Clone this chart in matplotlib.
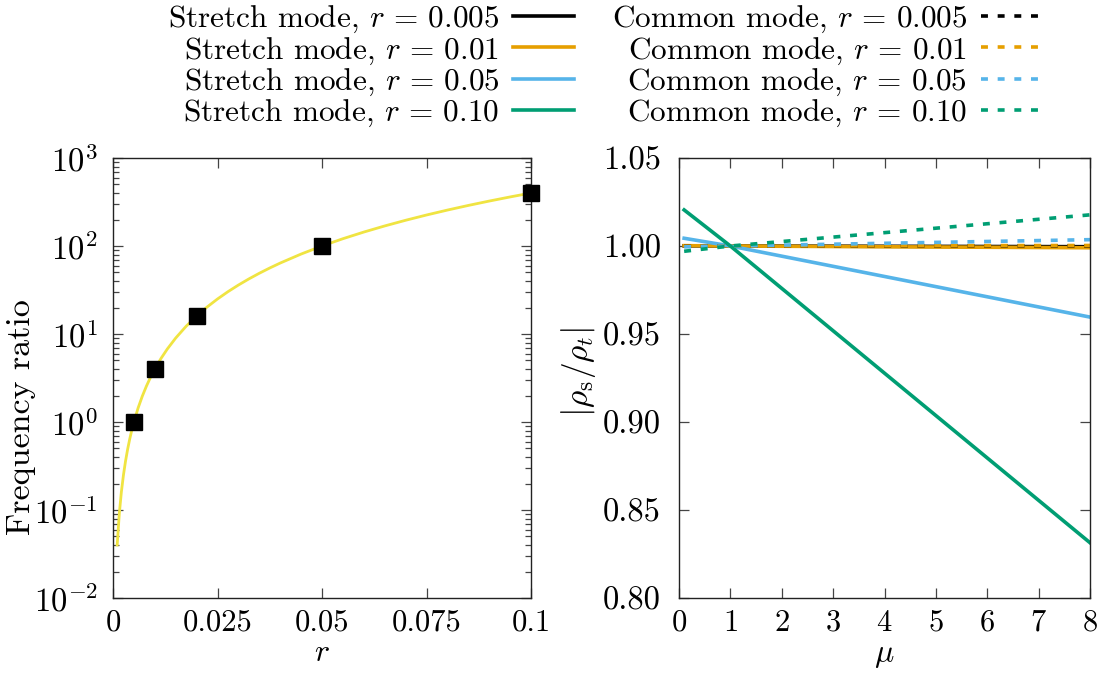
import matplotlib
matplotlib.use("Agg")
import matplotlib.pyplot as plt
from matplotlib.ticker import LogLocator, FixedLocator, FixedFormatter, NullFormatter

plt.rcParams['font.family'] = ['cmr10', 'DejaVu Serif']
plt.rcParams['mathtext.fontset'] = 'cm'
plt.rcParams['axes.formatter.use_mathtext'] = True
plt.rcParams['lines.scale_dashes'] = False
plt.rcParams['font.size'] = 22

# --- left panel: frequency ratio versus r ---
r_points = [0.005, 0.01, 0.02, 0.05, 0.1]
ratio_points = [1, 4, 16, 100, 400]

r_curve = [0.001, 0.0015, 0.002, 0.0025, 0.003, 0.0035, 0.004, 0.0045, 0.005,
           0.006, 0.007, 0.008, 0.009, 0.01, 0.0115, 0.013, 0.015, 0.0175, 0.02,
           0.0225, 0.025, 0.0275, 0.03, 0.0325, 0.035, 0.0375, 0.04, 0.045, 0.05,
           0.055, 0.06, 0.065, 0.07, 0.075, 0.08, 0.085, 0.09, 0.095, 0.1]
ratio_curve = [0.04, 0.09, 0.16, 0.25, 0.36, 0.49, 0.64, 0.81, 1.0,
               1.44, 1.96, 2.56, 3.24, 4.0, 5.29, 6.76, 9.0, 12.25, 16.0,
               20.25, 25.0, 30.25, 36.0, 42.25, 49.0, 56.25, 64.0, 81.0, 100.0,
               121.0, 144.0, 169.0, 196.0, 225.0, 256.0, 289.0, 324.0, 361.0, 400.0]

r_ticks = [0, 0.025, 0.05, 0.075, 0.1]
r_tick_labels = ["0", "0.025", "0.05", "0.075", "0.1"]

# --- right panel: |rho_s / rho_t| versus mu ---
mu = [0.1, 1.0, 8.0]
stretch = {
    "0.005": [1.0001, 1.0, 0.9996],
    "0.01": [1.0002, 1.0, 0.9990],
    "0.05": [1.0044, 1.0, 0.9596],
    "0.10": [1.0205, 1.0, 0.8314],
}
common = {
    "0.005": [0.99995, 1.0, 1.0001],
    "0.01": [0.9999, 1.0, 1.0003],
    "0.05": [0.9995, 1.0, 1.0036],
    "0.10": [0.9970, 1.0, 1.0177],
}
series_colors = {
    "0.005": "#000000",
    "0.01": "#E69F00",
    "0.05": "#56B4E9",
    "0.10": "#009E73",
}
mu_ticks = [0, 1, 2, 3, 4, 5, 6, 7, 8]
rho_ticks = [0.80, 0.85, 0.90, 0.95, 1.00, 1.05]
rho_tick_labels = ["0.80", "0.85", "0.90", "0.95", "1.00", "1.05"]

W, H = 1106, 682
fig = plt.figure(figsize=(W / 100, H / 100), dpi=100)

AX_L1, AX_R1, AX_L2, AX_R2, AX_T, AX_B = 113, 531, 679, 1090, 158, 598
ax1 = fig.add_axes([AX_L1 / W, 1 - AX_B / H, (AX_R1 - AX_L1) / W, (AX_B - AX_T) / H])
ax2 = fig.add_axes([AX_L2 / W, 1 - AX_B / H, (AX_R2 - AX_L2) / W, (AX_B - AX_T) / H])

for ax in (ax1, ax2):
    for s in ax.spines.values():
        s.set_linewidth(1.0)
        s.set_color('#222222')
    ax.tick_params(which='both', direction='in', top=True, right=True,
                   width=0.9, color='#444444')
    ax.tick_params(which='major', length=7)
    ax.tick_params(which='minor', length=4)
    ax.tick_params(axis='x', pad=8, labelsize=22)
    ax.tick_params(axis='y', labelsize=23.5)
ax1.tick_params(axis='y', pad=11)
ax2.tick_params(axis='y', pad=13)

# left panel
ax1.plot(r_curve, ratio_curve, color='#F0E442', lw=2.0, zorder=2)
ax1.plot(r_points, ratio_points, 's', color='black', ms=11.5, clip_on=False, zorder=3)
ax1.set_yscale('log')
ax1.set_xlim(0, 0.1)
ax1.set_ylim(1e-2, 1e3)
ax1.xaxis.set_major_locator(FixedLocator(r_ticks))
ax1.xaxis.set_major_formatter(FixedFormatter(r_tick_labels))
ax1.yaxis.set_major_locator(LogLocator(base=10, numticks=10))
ax1.yaxis.set_minor_locator(LogLocator(base=10, subs=range(2, 10), numticks=20))
ax1.yaxis.set_minor_formatter(NullFormatter())
ax1.set_xlabel(r'$r$', va='center', fontsize=23)
ax1.xaxis.set_label_coords(0.5, -(653 - AX_B) / (AX_B - AX_T))
ax1.set_ylabel('Frequency ratio', va='center', fontsize=24.5)
ax1.yaxis.set_label_coords((21 - AX_L1) / (AX_R1 - AX_L1), (AX_B - 417) / (AX_B - AX_T))

# right panel
handles_s, handles_c = [], []
for key in ["0.005", "0.01", "0.05", "0.10"]:
    h, = ax2.plot(mu, stretch[key], color=series_colors[key], lw=2.6,
                  label=rf'Stretch mode, $r\,=\,{key}$')
    handles_s.append(h)
for key in ["0.005", "0.01", "0.05", "0.10"]:
    h, = ax2.plot(mu, common[key], color=series_colors[key], lw=2.6,
                  dashes=(5, 7), label=rf'Common mode, $r\,=\,{key}$')
    handles_c.append(h)
ax2.set_xlim(0, 8)
ax2.set_ylim(0.80, 1.05)
ax2.xaxis.set_major_locator(FixedLocator(mu_ticks))
ax2.yaxis.set_major_locator(FixedLocator(rho_ticks))
ax2.yaxis.set_major_formatter(FixedFormatter(rho_tick_labels))
ax2.set_xlabel(r'$\mu$', va='center', fontsize=23)
ax2.xaxis.set_label_coords(0.5, -(656 - AX_B) / (AX_B - AX_T))
ax2.set_ylabel(r'$\left|\rho_\mathrm{s}/\rho_t\right|$', va='center', fontsize=24)
ax2.yaxis.set_label_coords((578 - AX_L2) / (AX_R2 - AX_L2), (AX_B - 372) / (AX_B - AX_T))

handles = handles_s + handles_c
fig.legend(handles=handles, labels=[h.get_label() for h in handles],
           ncol=2, markerfirst=False, frameon=False,
           loc='upper right', bbox_to_anchor=(1058 / W, 1.017),
           borderpad=0.0, handlelength=1.95, handletextpad=0.45,
           columnspacing=1.2, labelspacing=0.0, fontsize=22.5)

fig.savefig('out.png', dpi=100)
